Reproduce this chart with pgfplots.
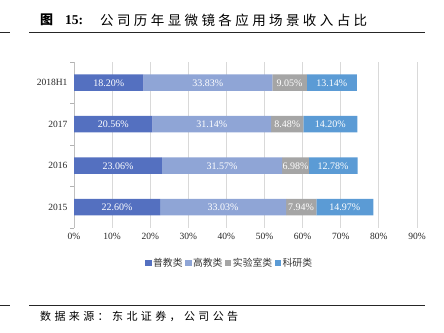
\documentclass[border=0pt]{standalone}
\usepackage{pgfplots}
\pgfplotsset{compat=1.18}
\usepackage{pgfplotstable}
\usepackage{fontspec}
\setmainfont{Liberation Serif}
\newfontfamily\cjk{Noto Sans CJK SC}
\definecolor{c1}{RGB}{84,112,192}
\definecolor{c2}{RGB}{143,165,214}
\definecolor{c3}{RGB}{165,165,165}
\definecolor{c4}{RGB}{91,155,213}

\pgfplotstableread{
y v1 v2 v3 v4
0 22.60 33.03 7.94 14.97
1 23.06 31.57 6.98 12.78
2 20.56 31.14 8.48 14.20
3 18.20 33.83 9.05 13.14
}\data

\pgfplotsset{
  seg/.style={fill=#1, draw=none,
    visualization depends on={rawx \as \rawv},
    nodes near coords={\pgfmathprintnumber[fixed,fixed zerofill,precision=2]{\rawv}\%},
    nodes near coords align={center},
    every node near coord/.append style={anchor=center, text=white,
      font=\fontsize{10}{11}\selectfont}},
  sqlegend/.style={legend image code/.code={\fill[##1] (0pt,-3pt) rectangle (6.5pt,3.5pt);}}
}

\begin{document}
\begin{tikzpicture}
\useasboundingbox (0,0) rectangle (444pt,332pt);
% title and rules
\draw[line width=1pt, black!85] (0,299pt) -- (10pt,299pt);
\draw[line width=1pt, black!85] (29pt,299pt) -- (425pt,299pt);
\node[anchor=west, inner sep=0] at (40pt,312pt) {\cjk\fontsize{13}{15}\selectfont\bfseries 图};
\node[anchor=west, inner sep=0] at (65pt,312pt) {\fontsize{13.5}{15}\selectfont\bfseries 15:};
\node[anchor=west, inner sep=0] at (100pt,312pt) {\cjk\fontsize{13.5}{15}\selectfont\makebox[267pt][s]{公\hfill 司\hfill 历\hfill 年\hfill 显\hfill 微\hfill 镜\hfill 各\hfill 应\hfill 用\hfill 场\hfill 景\hfill 收\hfill 入\hfill 占\hfill 比}};
\draw[line width=1pt, black!85] (0,27pt) -- (10pt,27pt);
\draw[line width=1pt, black!85] (29pt,27pt) -- (425pt,27pt);
\node[anchor=west, inner sep=0] at (40pt,16pt) {\cjk\fontsize{11}{13}\selectfont\makebox[198pt][s]{数\hfill 据\hfill 来\hfill 源\hfill ：\hfill 东\hfill 北\hfill 证\hfill 券\hfill ，\hfill 公\hfill 司\hfill 公\hfill 告}};

\begin{axis}[
  at={(74pt,104pt)}, anchor=south west, scale only axis,
  width=343pt, height=166pt,
  xbar stacked, bar width=16.5pt,
  xmin=0, xmax=90, ymin=-0.5, ymax=3.5,
  xtick={0,10,...,90},
  xticklabel={\pgfmathprintnumber{\tick}\%},
  ytick={0,1,2,3}, yticklabels={2015,2016,2017,2018H1},
  minor ytick={-0.5,0.5,1.5,2.5,3.5},
  axis x line*=bottom, axis y line*=left,
  axis line style={-},
  x axis line style={draw=none},
  y axis line style={draw=black!25},
  major tick length=0pt, minor tick length=4pt, tick align=outside,
  minor tick style={black!30},
  xmajorgrids, major grid style={black!15, line width=0.8pt},
  /pgf/number format/assume math mode=true,
  tick label style={font=\fontsize{9.5}{11}\selectfont, text=black!85},
  yticklabel style={xshift=-3pt},
  xticklabel style={yshift=-2pt},
  legend columns=4,
  legend style={draw=none, fill=none, at={(0.453,-0.211)}, anchor=center,
    font=\cjk\fontsize{9.8}{11}\selectfont, text=black!80,
    inner sep=0pt, nodes={inner sep=1.5pt},
    /tikz/every even column/.append style={column sep=1pt}},
]
\addplot[seg=c1, sqlegend] table[x=v1, y=y] {\data};
\addplot[seg=c2, sqlegend] table[x=v2, y=y] {\data};
\addplot[seg=c3, sqlegend] table[x=v3, y=y] {\data};
\addplot[seg=c4, sqlegend] table[x=v4, y=y] {\data};
\legend{普教类,高教类,实验室类,科研类}
\end{axis}
\end{tikzpicture}
\end{document}
